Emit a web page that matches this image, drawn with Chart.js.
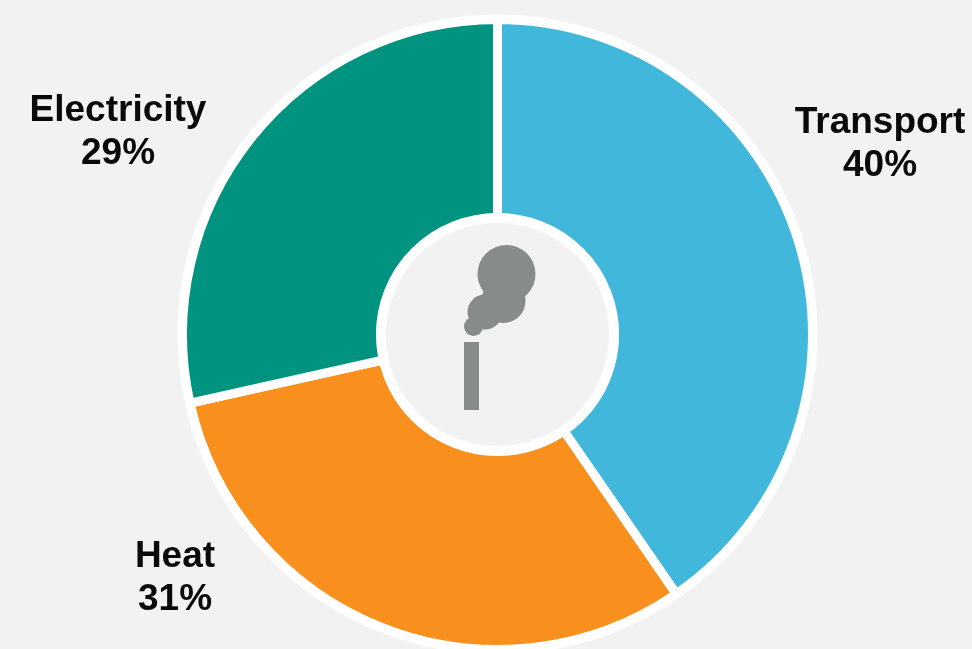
<!DOCTYPE html>
<html lang="en">
<head>
<meta charset="UTF-8" />
<title>Emissions by sector</title>
<script src="https://cdn.jsdelivr.net/npm/chart.js"></script>
<style>
	html, body { margin: 0; padding: 0; background: #f2f2f2; }
	#wrap { position: relative; width: 972px; height: 649px; overflow: hidden; }
	#pie { position: absolute; left: 0; top: 0; }
</style>
</head>
<body>
<div id="wrap"><canvas id="pie" width="972" height="665"></canvas></div>
<script>
const categories = ["Transport", "Heat", "Electricity"];
const shares = [40.4, 31.1, 28.5];
const colours = ["#41b8db", "#f9901e", "#009480"];
const labelSpots = [[880, 144], [175, 577.5], [118, 132]];

// outer white ring, smoke stack icon and labels
const extras = {
	id: "extras",
	beforeDatasetsDraw(chart) {
		const c = chart.ctx;
		const arc = chart.getDatasetMeta(0).data[0];
		c.save();
		c.fillStyle = "#ffffff";
		c.beginPath();
		c.arc(arc.x, arc.y, arc.outerRadius + 5, 0, Math.PI * 2);
		c.fill();
		c.restore();
	},
	afterDatasetsDraw(chart) {
		const c = chart.ctx;
		const arc = chart.getDatasetMeta(0).data[0];
		c.save();
		c.fillStyle = "#f2f2f2";
		c.strokeStyle = "#ffffff";
		c.lineWidth = 10;
		c.beginPath();
		c.arc(arc.x, arc.y, arc.innerRadius, 0, Math.PI * 2);
		c.fill();
		c.stroke();
		c.fillStyle = "#878b8b";
		c.fillRect(464, 342, 15, 68);
		[[506.5, 274, 29], [503.5, 301, 22], [485, 312, 17.5], [473.5, 326.5, 9.5]].forEach(p => {
			c.beginPath();
			c.arc(p[0], p[1], p[2], 0, Math.PI * 2);
			c.fill();
		});
		c.fillStyle = "#0a0a0a";
		c.font = "bold 37px 'Liberation Sans', Arial, sans-serif";
		c.textAlign = "center";
		c.textBaseline = "middle";
		categories.forEach((name, i) => {
			c.fillText(name, labelSpots[i][0], labelSpots[i][1] - 21);
			c.fillText(Math.round(shares[i]) + "%", labelSpots[i][0], labelSpots[i][1] + 22);
		});
		c.restore();
	}
};

new Chart(document.getElementById("pie"), {
	type: "doughnut",
	data: {
		labels: categories,
		datasets: [{
			data: shares,
			backgroundColor: colours,
			borderColor: "#ffffff",
			borderWidth: 9,
			borderAlign: "center"
		}]
	},
	options: {
		responsive: false,
		animation: false,
		cutout: "37%",
		layout: { padding: { left: 178, right: 155, top: 15, bottom: 11 } },
		plugins: { legend: { display: false }, tooltip: { enabled: false } }
	},
	plugins: [extras]
});
</script>
</body>
</html>
